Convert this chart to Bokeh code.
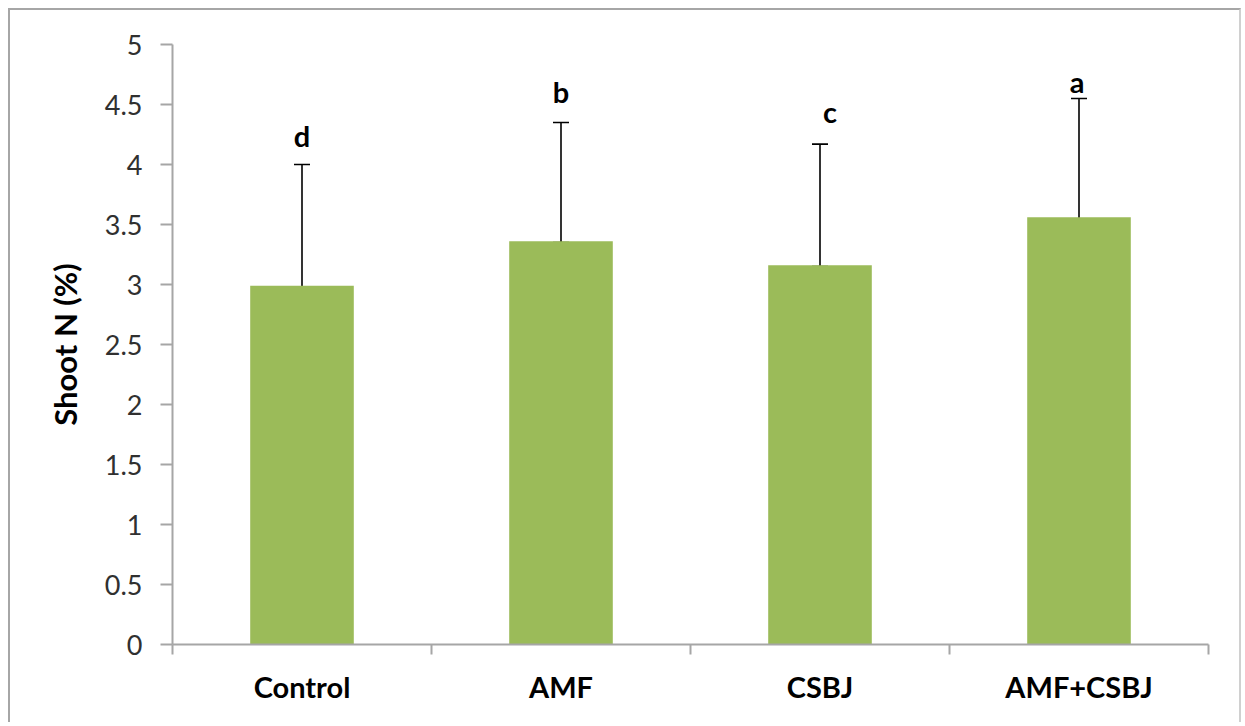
import numpy as np
from bokeh.plotting import figure
from bokeh.models import (ColumnDataSource, Whisker, TeeHead, FixedTicker, Range1d, LabelSet)
from bokeh.core.properties import value
from bokeh.embed import file_html
from bokeh.resources import INLINE

# ---- data ----
categories = ["Control", "AMF", "CSBJ", "AMF+CSBJ"]
means = [2.99, 3.36, 3.16, 3.56]
err_low = [2.98, 3.35, 3.15, 3.50]
err_high = [4.00, 4.35, 4.17, 4.55]
letters = ["d", "b", "c", "a"]
letter_y = [4.15, 4.51, 4.35, 4.60]
letter_dx = [0, 0, 10, -2]
y_ticks = [0, 0.5, 1, 1.5, 2, 2.5, 3, 3.5, 4, 4.5, 5]
y_tick_labels = ["0", "0.5", "1", "1.5", "2", "2.5", "3", "3.5", "4", "4.5", "5"]
y_label = "Shoot N (%)"

n = len(categories)
xpos = list(np.arange(n) + 0.5)

src = ColumnDataSource(dict(x=xpos, top=means, lo=err_low, hi=err_high,
                            letter=letters, ly=letter_y, dx=letter_dx))

FONT = "Lato"
GRAY = "#A6A6A6"

p = figure(width=1233, height=714, output_backend="svg", toolbar_location=None,
           x_range=Range1d(0, n), y_range=Range1d(0, 5),
           min_border_left=162, min_border_right=35, min_border_top=34, min_border_bottom=80)
p.styles = {"margin-left": "8px", "margin-top": "8px",
            "border-top": "2px solid #A6A6A6", "border-left": "2px solid #A6A6A6",
            "border-right": "2px solid #D0D0D0"}

p.xgrid.visible = False
p.ygrid.visible = False
p.outline_line_color = None
p.background_fill_color = "white"
p.border_fill_color = "white"

p.vbar(x="x", top="top", width=0.40, bottom=0, source=src,
       fill_color="#9BBB59", line_color=None)

wh = Whisker(base="x", lower="lo", upper="hi", source=src,
             line_color="black", line_width=1.6,
             upper_head=TeeHead(size=16, line_color="black", line_width=1.6),
             lower_head=TeeHead(size=16, line_color="black", line_width=1.6))
p.add_layout(wh)

labels = LabelSet(x="x", y="ly", text="letter", source=src, x_offset="dx",
                  text_align="center", text_baseline="alphabetic",
                  text_font=value(FONT), text_font_style="bold", text_font_size="29px",
                  text_color="black")
p.add_layout(labels)

# y axis
ya = p.yaxis[0]
ya.ticker = FixedTicker(ticks=y_ticks)
ya.major_label_overrides = {t: l for t, l in zip(y_ticks, y_tick_labels)}
ya.axis_line_color = GRAY
ya.axis_line_width = 2
ya.major_tick_line_color = GRAY
ya.major_tick_line_width = 2
ya.major_tick_out = 12
ya.major_tick_in = 0
ya.minor_tick_line_color = None
ya.major_label_text_font = FONT
ya.major_label_text_font_size = "27px"
ya.major_label_text_color = "#303030"
ya.major_label_standoff = 18
ya.axis_label = y_label
ya.axis_label_text_font = FONT
ya.axis_label_text_font_style = "bold"
ya.axis_label_text_font_size = "31px"
ya.axis_label_text_color = "black"
ya.axis_label_standoff = 18

# x axis: labels at category centres, ticks at boundaries (minor ticks)
xa = p.xaxis[0]
xa.ticker = FixedTicker(ticks=xpos, minor_ticks=list(range(n + 1)))
xa.major_label_overrides = {x: c for x, c in zip(xpos, categories)}
xa.axis_line_color = GRAY
xa.axis_line_width = 2
xa.major_tick_line_color = None
xa.major_tick_out = 10
xa.major_tick_in = 0
xa.minor_tick_line_color = GRAY
xa.minor_tick_line_width = 2
xa.minor_tick_out = 10
xa.minor_tick_in = 0
xa.major_label_text_font = FONT
xa.major_label_text_font_style = "bold"
xa.major_label_text_font_size = "29px"
xa.major_label_text_color = "black"
xa.major_label_standoff = 14

open("out.html", "w").write(file_html(p, INLINE))
